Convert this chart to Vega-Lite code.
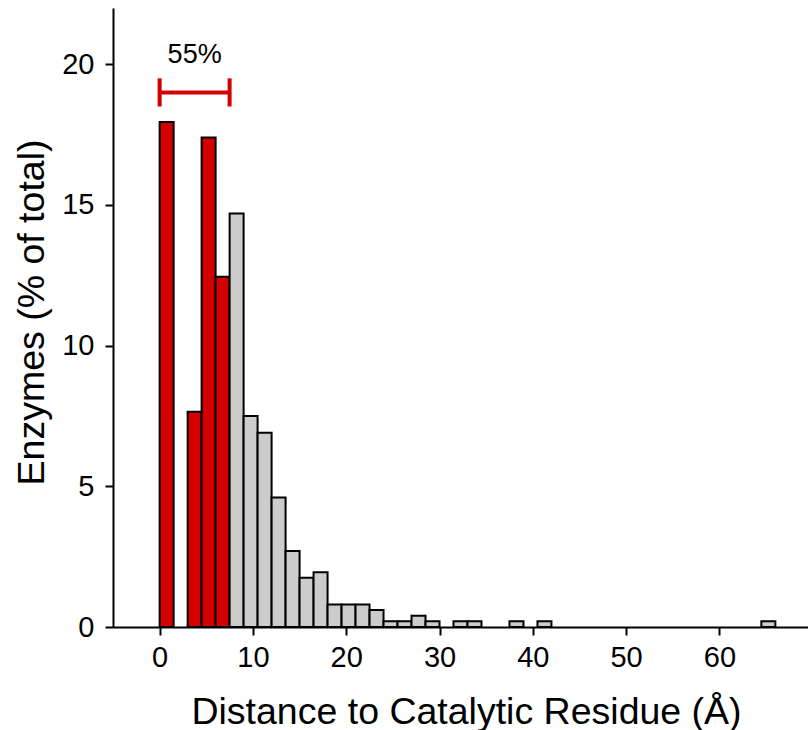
{
  "$schema": "https://vega.github.io/schema/vega-lite/v6.json",
  "width": 695,
  "height": 619,
  "autosize": {"type": "none"},
  "padding": {"left": 113, "top": 8, "right": 0, "bottom": 103},
  "background": "white",
  "config": {
    "view": {"stroke": null},
    "font": "Liberation Sans",
    "axis": {
      "domainColor": "black",
      "domainWidth": 2,
      "tickColor": "black",
      "tickWidth": 2,
      "tickSize": 8,
      "labelColor": "black",
      "labelFontSize": 29,
      "titleColor": "black",
      "titleFontSize": 37.5,
      "titleFontWeight": "normal",
      "grid": false
    }
  },
  "layer": [
    {
      "data": {
        "values": [
          {"start": 0, "end": 1.5, "pct": 17.95, "group": "within"},
          {"start": 3, "end": 4.5, "pct": 7.65, "group": "within"},
          {"start": 4.5, "end": 6, "pct": 17.4, "group": "within"},
          {"start": 6, "end": 7.5, "pct": 12.45, "group": "within"},
          {"start": 7.5, "end": 9, "pct": 14.7, "group": "beyond"},
          {"start": 9, "end": 10.5, "pct": 7.5, "group": "beyond"},
          {"start": 10.5, "end": 12, "pct": 6.9, "group": "beyond"},
          {"start": 12, "end": 13.5, "pct": 4.6, "group": "beyond"},
          {"start": 13.5, "end": 15, "pct": 2.7, "group": "beyond"},
          {"start": 15, "end": 16.5, "pct": 1.75, "group": "beyond"},
          {"start": 16.5, "end": 18, "pct": 1.95, "group": "beyond"},
          {"start": 18, "end": 19.5, "pct": 0.8, "group": "beyond"},
          {"start": 19.5, "end": 21, "pct": 0.8, "group": "beyond"},
          {"start": 21, "end": 22.5, "pct": 0.8, "group": "beyond"},
          {"start": 22.5, "end": 24, "pct": 0.6, "group": "beyond"},
          {"start": 24, "end": 25.5, "pct": 0.2, "group": "beyond"},
          {"start": 25.5, "end": 27, "pct": 0.2, "group": "beyond"},
          {"start": 27, "end": 28.5, "pct": 0.4, "group": "beyond"},
          {"start": 28.5, "end": 30, "pct": 0.2, "group": "beyond"},
          {"start": 31.5, "end": 33, "pct": 0.2, "group": "beyond"},
          {"start": 33, "end": 34.5, "pct": 0.2, "group": "beyond"},
          {"start": 37.5, "end": 39, "pct": 0.2, "group": "beyond"},
          {"start": 40.5, "end": 42, "pct": 0.2, "group": "beyond"},
          {"start": 64.5, "end": 66, "pct": 0.2, "group": "beyond"}
        ]
      },
      "mark": {"type": "rect", "stroke": "black", "strokeWidth": 2},
      "encoding": {
        "x": {
          "field": "start",
          "type": "quantitative",
          "scale": {"domain": [-5, 69.5], "nice": false, "zero": false},
          "axis": {
            "title": "Distance to Catalytic Residue (Å)",
            "values": [0, 10, 20, 30, 40, 50, 60],
            "labelPadding": 8,
            "titleX": 353,
            "titleY": 96,
            "titleAlign": "center",
            "titleBaseline": "alphabetic"
          }
        },
        "x2": {"field": "end"},
        "y": {
          "field": "pct",
          "type": "quantitative",
          "scale": {"domain": [0, 22], "nice": false},
          "axis": {
            "title": "Enzymes (% of total)",
            "values": [0, 5, 10, 15, 20],
            "labelPadding": 11,
            "titleX": -70,
            "titleY": 304,
            "titleAlign": "center",
            "titleBaseline": "alphabetic",
            "titleAngle": 270
          }
        },
        "y2": {"datum": 0},
        "fill": {
          "field": "group",
          "type": "nominal",
          "scale": {"domain": ["within", "beyond"], "range": ["#d40000", "#cccccc"]},
          "legend": null
        }
      }
    },
    {
      "data": {"values": [{"start": 0, "end": 7.5, "pct": 19}]},
      "mark": {"type": "rule", "color": "#d40000", "strokeWidth": 4},
      "encoding": {
        "x": {"field": "start", "type": "quantitative"},
        "x2": {"field": "end"},
        "y": {"field": "pct", "type": "quantitative"}
      }
    },
    {
      "data": {"values": [{"start": 0, "pct": 18.5, "pct2": 19.5}, {"start": 7.5, "pct": 18.5, "pct2": 19.5}]},
      "mark": {"type": "rule", "color": "#d40000", "strokeWidth": 4},
      "encoding": {
        "x": {"field": "start", "type": "quantitative"},
        "y": {"field": "pct", "type": "quantitative"},
        "y2": {"field": "pct2"}
      }
    },
    {
      "data": {"values": [{"start": 3.75, "pct": 20.05, "label": "55%"}]},
      "mark": {"type": "text", "fontSize": 27, "color": "black", "baseline": "alphabetic", "align": "center"},
      "encoding": {
        "x": {"field": "start", "type": "quantitative"},
        "y": {"field": "pct", "type": "quantitative"},
        "text": {"field": "label"}
      }
    }
  ]
}
